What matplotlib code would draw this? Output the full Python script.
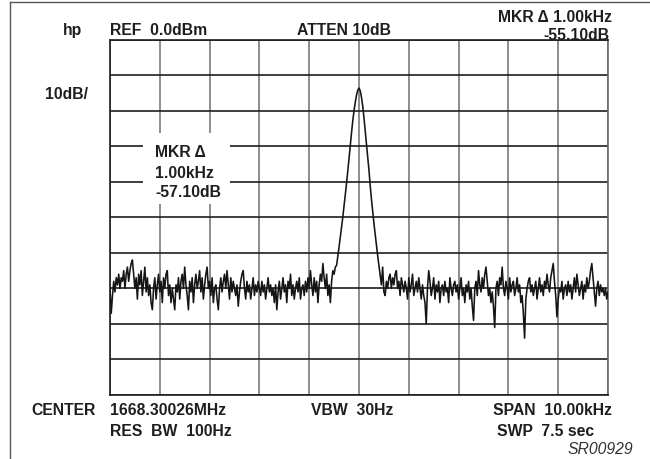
"""HP spectrum analyzer screen: single carrier with 10 kHz span."""
import matplotlib
matplotlib.use('Agg')
import matplotlib.pyplot as plt
from matplotlib.lines import Line2D
from matplotlib.patches import Rectangle
import numpy as np

# Sweep: 401 trace points over a 10 kHz span (offset from centre, kHz)
span_khz = 10.0
n_points = 401
freq_khz = np.linspace(-span_khz / 2, span_khz / 2, n_points)

# Trace levels in dBm
noise_left = [
    -70, -77, -72, -68, -71, -67, -69, -66, -70, -67,
    -68, -65, -70, -66, -64, -68, -65, -63, -62, -66,
    -70, -67, -73, -66, -69, -65, -72, -68, -64, -71,
    -67, -72, -69, -74, -76, -70, -67, -73, -69, -66,
    -71, -68, -74, -67, -70, -66, -65, -72, -69, -74,
    -70, -73, -76, -69, -71, -67, -73, -68, -66, -70,
    -64, -69, -72, -76, -68, -71, -67, -74, -69, -66,
    -70, -68, -65, -71, -67, -73, -69, -66, -64, -70,
    -68, -72, -67, -74, -70, -69, -73, -76, -70, -67,
    -71, -68, -66, -70, -65, -69, -73, -67, -71, -68,
    -70, -72, -69, -75, -71, -68, -66, -65, -70, -73,
    -68, -71, -69, -73, -70, -67, -72, -69, -71, -68,
    -70, -72, -68, -71, -69, -73, -70, -67, -71, -69,
    -72, -70, -74, -69, -76, -71, -68, -73, -70, -67,
    -71, -69, -74, -68, -70, -66, -72, -69, -73, -70,
    -68, -71, -67, -73, -70, -69, -72, -68, -71, -67,
    -70, -65, -69, -72, -67, -71, -68, -74, -69, -66,
    -68, -63, -67, -70, -66, -72, -69, -74, -68, -65,
    -66, -64,
]
carrier = [
    -63.5, -61.0, -58.3, -55.5, -52.7, -49.9, -46.8, -43.6, -40.4,
    -37.0, -33.4, -29.7, -26.2, -22.8, -20.0, -17.6, -15.6, -14.2,
    -13.6,
    -14.4, -16.2, -18.7, -22.0, -25.6, -29.0, -32.6, -36.7, -41.0,
    -44.9, -48.4, -51.7, -54.8, -57.8, -60.8, -63.5,
]
noise_right = [
    -66, -69, -64, -71, -72, -68, -70, -67, -66, -70,
    -67, -69, -66, -65, -70, -68, -72, -67, -69, -71,
    -68, -70, -73, -67, -71, -69, -66, -72, -70, -68,
    -71, -67, -70, -73, -69, -72, -74, -80, -70, -65,
    -68, -72, -70, -67, -73, -69, -71, -68, -74, -70,
    -69, -72, -68, -71, -70, -74, -67, -70, -72, -69,
    -68, -71, -69, -73, -70, -67, -72, -70, -74, -69,
    -71, -68, -73, -70, -75, -79, -70, -68, -72, -65,
    -69, -71, -67, -70, -66, -64, -68, -72, -70, -74,
    -71, -75, -81, -70, -68, -72, -67, -69, -64, -70,
    -72, -68, -70, -73, -67, -71, -69, -68, -72, -70,
    -67, -71, -69, -74, -72, -77, -84, -73, -70, -68,
    -67, -71, -69, -72, -70, -68, -73, -70, -67, -71,
    -69, -72, -68, -70, -66, -69, -71, -67, -65, -63,
    -68, -72, -78, -73, -70, -71, -68, -73, -70, -69,
    -72, -68, -71, -69, -73, -70, -67, -71, -66, -69,
    -72, -70, -68, -73, -69, -71, -67, -70, -68, -65,
    -63, -67, -71, -75, -70, -68, -72, -69, -71, -70,
    -72, -70, -73, -71,
]
trace_db = np.array(noise_left + carrier + noise_right, dtype=float)

ref_level = 0.0
db_per_div = 10
n_xdiv, n_ydiv = 10, 10

W, H = 650, 460
fig = plt.figure(figsize=(W / 100, H / 100), dpi=100)


def fx(x):
    return x / W


def fy(y):
    return 1 - y / H


# graticule area in pixels
gx0, gx1, gy0, gy1 = 110, 608, 40.7, 396
ax = fig.add_axes([fx(gx0), fy(gy1), fx(gx1) - fx(gx0), fy(gy0) - fy(gy1)])
ax.plot(freq_khz, trace_db, color='#151515', linewidth=1.15, zorder=3)

ax.set_xlim(-span_khz / 2, span_khz / 2)
ax.set_ylim(ref_level - db_per_div * n_ydiv, ref_level)
ax.set_xticks(np.linspace(-span_khz / 2, span_khz / 2, n_xdiv + 1))
ax.set_yticks(np.linspace(ref_level - db_per_div * n_ydiv, ref_level, n_ydiv + 1))
ax.tick_params(length=0, labelbottom=False, labelleft=False)
ax.xaxis.grid(True, color='#7a7a7a', linewidth=1.2)
ax.yaxis.grid(True, color='#1e1e1e', linewidth=1.2)
ax.set_axisbelow(True)
for side, sp in ax.spines.items():
    sp.set_linewidth(1.2)
    sp.set_color('#6a6a6a' if side == 'right' else '#1e1e1e')

# partial frame around the screen
fig.add_artist(Line2D([fx(10), 1.0], [fy(3.3), fy(3.3)], color='#555555', linewidth=1.0))
fig.add_artist(Line2D([fx(10), fx(10)], [fy(3.3), 0.0], color='#555555', linewidth=1.0))

# white box behind the marker readout
fig.add_artist(Rectangle((fx(143), fy(205)), fx(230) - fx(143), fy(134) - fy(205),
                         facecolor='white', edgecolor='none', zorder=2))

txt = dict(fontsize=11.3, fontweight='bold', color='#1e1e1e',
           family=['Liberation Sans', 'DejaVu Sans'], va='baseline', zorder=4)


def label(x, y, s, ha='left', **kw):
    opts = dict(txt)
    opts.update(kw)
    fig.text(fx(x), fy(y), s, ha=ha, **opts)


label(63, 35, 'hp')
label(110, 35, 'REF  0.0dBm')
label(297, 35, 'ATTEN 10dB')
label(612, 22, 'MKR \u0394 1.00kHz', ha='right')
label(609, 40.5, '-55.10dB', ha='right')
label(45, 99, '10dB/')

label(155, 157, 'MKR \u0394')
label(155, 178, '1.00kHz')
label(155, 197, '-57.10dB')

label(31, 415, 'CENTER')
label(110, 415, '1668.30026MHz')
label(311, 415, 'VBW  30Hz')
label(612, 415, 'SPAN  10.00kHz', ha='right')
label(110, 436, 'RES  BW  100Hz')
label(594, 436, 'SWP  7.5 sec', ha='right')
label(633, 454, 'SR00929', ha='right', fontweight='normal', fontstyle='italic',
      color='#333333')

fig.savefig('out.png', dpi=100)
